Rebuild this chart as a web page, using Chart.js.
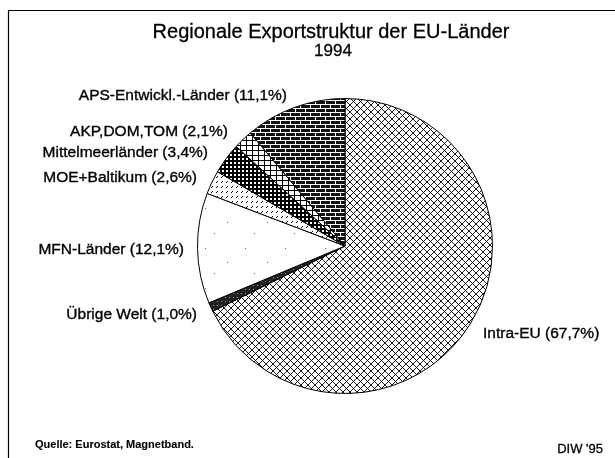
<!DOCTYPE html>
<html lang="de">
<head>
    <meta charset="UTF-8">
    <title>Regionale Exportstruktur der EU-Länder 1994</title>
    <style>
        html, body {
            margin: 0;
            padding: 0;
            background-color: #fff;
        }
        .wrap {
            position: relative;
            width: 615px;
            height: 458px;
        }
    </style>
    <script src="https://cdn.jsdelivr.net/npm/chart.js"></script>
</head>
<body>
    <div class="wrap">
        <canvas id="exportChart" width="615" height="458"></canvas>
    </div>

    <script>
        // Daten (Anteile in %)
        const regions = ['Intra-EU', 'Übrige Welt', 'MFN-Länder', 'MOE+Baltikum', 'Mittelmeerländer', 'AKP,DOM,TOM', 'APS-Entwickl.-Länder'];
        const shares = [67.7, 1.0, 12.1, 2.6, 3.4, 2.1, 11.1];

        // Schraffuren wie im Druck
        function makePattern(w, h, draw) {
            const c = document.createElement('canvas');
            c.width = w;
            c.height = h;
            const g = c.getContext('2d');
            draw(g);
            return g.createPattern(c, 'repeat');
        }

        const ctxMain = document.getElementById('exportChart').getContext('2d');

        const patterns = [
            // Intra-EU: Rautenschraffur
            makePattern(7, 7, g => {
                g.fillStyle = '#fff'; g.fillRect(0, 0, 7, 7);
                g.strokeStyle = '#000'; g.lineWidth = 0.9;
                g.beginPath();
                g.moveTo(0, 0); g.lineTo(7, 7);
                g.moveTo(7, 0); g.lineTo(0, 7);
                g.moveTo(-1, 6); g.lineTo(1, 8);
                g.moveTo(6, -1); g.lineTo(8, 1);
                g.stroke();
            }),
            // Übrige Welt: dunkel
            makePattern(4, 4, g => {
                g.fillStyle = '#222'; g.fillRect(0, 0, 4, 4);
                g.fillStyle = '#999'; g.fillRect(1, 1, 1, 1);
            }),
            // MFN: weiß mit vereinzelten Punkten
            makePattern(40, 40, g => {
                g.fillStyle = '#fff'; g.fillRect(0, 0, 40, 40);
                g.fillStyle = '#666';
                g.fillRect(5, 8, 1, 1); g.fillRect(27, 22, 1, 1); g.fillRect(14, 33, 1, 1);
            }),
            // MOE+Baltikum: kurze Striche
            makePattern(5, 5, g => {
                g.fillStyle = '#fff'; g.fillRect(0, 0, 5, 5);
                g.strokeStyle = '#000'; g.lineWidth = 1;
                g.beginPath();
                g.moveTo(1, 3); g.lineTo(3, 1);
                g.stroke();
            }),
            // Mittelmeerländer: dichtes Gitter
            makePattern(4, 4, g => {
                g.fillStyle = '#fff'; g.fillRect(0, 0, 4, 4);
                g.fillStyle = '#000';
                g.fillRect(0, 0, 4, 2); g.fillRect(0, 0, 2, 4);
            }),
            // AKP,DOM,TOM: helle Kästchen
            makePattern(6, 5, g => {
                g.fillStyle = '#fff'; g.fillRect(0, 0, 6, 5);
                g.fillStyle = '#000';
                g.fillRect(0, 0, 6, 1); g.fillRect(0, 0, 1, 5);
            }),
            // APS: dunkle Ziegel
            makePattern(10, 8, g => {
                g.fillStyle = '#111'; g.fillRect(0, 0, 10, 8);
                g.fillStyle = '#fff';
                g.fillRect(0, 0, 10, 1); g.fillRect(0, 4, 10, 1);
                g.fillRect(0, 0, 1, 4); g.fillRect(5, 4, 1, 4);
            })
        ];

        // Beschriftungen und Rahmen
        const labelPos = [
            { x: 483, y: 334, align: 'left' },
            { x: 197, y: 315, align: 'right' },
            { x: 184, y: 250, align: 'right' },
            { x: 197, y: 178, align: 'right' },
            { x: 208, y: 153, align: 'right' },
            { x: 228, y: 132, align: 'right' },
            { x: 287, y: 96, align: 'right' }
        ];

        function drawText(c, txt, x, y) {
            c.fillText(txt, x, y);
            c.strokeText(txt, x, y);
        }

        const decorPlugin = {
            id: 'decor',
            afterDraw(chart) {
                const c = chart.ctx;
                c.save();
                // Rahmen oben und links
                c.strokeStyle = '#000';
                c.lineWidth = 1.2;
                c.beginPath();
                c.moveTo(615, 10.5);
                c.lineTo(8.5, 10.5);
                c.lineTo(8.5, 458);
                c.stroke();

                c.fillStyle = '#000';
                c.lineWidth = 0.3;
                c.textBaseline = 'middle';
                c.textAlign = 'center';
                c.font = '20px "Liberation Sans", Arial, sans-serif';
                drawText(c, 'Regionale Exportstruktur der EU-Länder', 331, 32);
                c.font = '17px "Liberation Sans", Arial, sans-serif';
                drawText(c, '1994', 333, 51);

                c.lineWidth = 0.35;
                c.font = '15.5px "Liberation Sans", Arial, sans-serif';
                regions.forEach((r, i) => {
                    const p = labelPos[i];
                    c.textAlign = p.align;
                    const txt = r + ' (' + shares[i].toFixed(1).replace('.', ',') + '%)';
                    drawText(c, txt, p.x, p.y);
                });

                c.lineWidth = 0.1;
                c.textAlign = 'left';
                c.font = 'bold 11px "Liberation Sans", Arial, sans-serif';
                drawText(c, 'Quelle: Eurostat, Magnetband.', 35, 445);
                c.textAlign = 'right';
                c.lineWidth = 0.3;
                c.font = '13px "Liberation Sans", Arial, sans-serif';
                drawText(c, "DIW '95", 603, 449);
                c.restore();
            }
        };

        new Chart(ctxMain, {
            type: 'pie',
            data: {
                labels: regions,
                datasets: [{
                    data: shares,
                    backgroundColor: patterns,
                    borderColor: '#000',
                    borderWidth: 1
                }]
            },
            options: {
                responsive: false,
                animation: false,
                layout: {
                    padding: { left: 197, right: 122, top: 98, bottom: 64 }
                },
                plugins: {
                    legend: { display: false },
                    title: { display: false },
                    tooltip: { enabled: false }
                }
            },
            plugins: [decorPlugin]
        });
    </script>
</body>
</html>
